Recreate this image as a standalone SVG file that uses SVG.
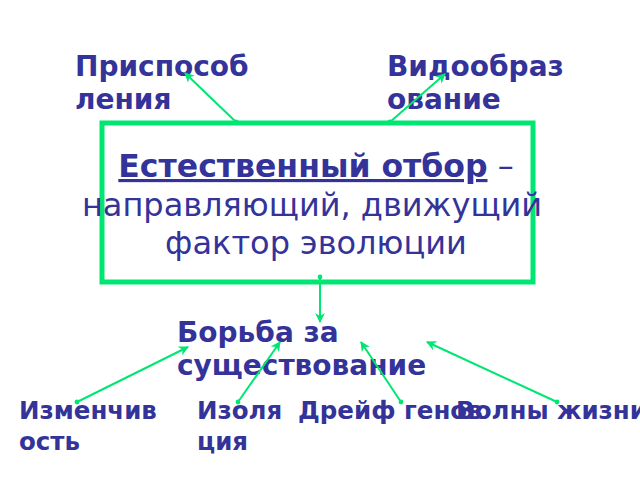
<svg xmlns="http://www.w3.org/2000/svg" width="640" height="480" viewBox="0 0 640 480">
<style>
.l{font-family:"DejaVu Sans",sans-serif;font-weight:bold;font-size:28px;fill:#333399}
.s{font-size:24.5px}
.b{font-family:"DejaVu Sans",sans-serif;font-size:32px;fill:#333399;text-anchor:middle}
.c{stroke:#00e673;stroke-width:2;fill:none;marker-end:url(#ah);marker-start:url(#dot)}
</style>
<defs>
<marker id="ah" viewBox="0 0 10 10" refX="9" refY="5" markerWidth="5" markerHeight="5" orient="auto"><path d="M0,0L10,5L0,10L3,5z" fill="#00e673"/></marker>
<marker id="dot" viewBox="0 0 10 10" refX="5" refY="5" markerWidth="3" markerHeight="3"><circle cx="5" cy="5" r="4" fill="#00e673"/></marker>
</defs>
<rect width="640" height="480" fill="#fff"/>
<g id="main"><rect x="102" y="123" width="431" height="159" fill="none" stroke="#00e673" stroke-width="5"/>
<text class="b" x="316" y="177"><tspan text-decoration="underline" font-weight="bold" font-size="31.5">Естественный отбор</tspan> –</text>
<text class="b" x="312" y="216">направляющий, движущий</text>
<text class="b" x="316" y="254">фактор эволюции</text></g>
<g id="n1"><text class="l" x="75" y="76">Приспособ</text><text class="l" x="75" y="109">ления</text></g>
<g id="n2"><text class="l" x="387" y="76">Видообраз</text><text class="l" x="387" y="109">ование</text></g>
<g id="n3"><text class="l" x="177" y="342" font-size="30">Борьба за</text><text class="l" x="177" y="375" font-size="30">существование</text></g>
<g id="n4"><text class="l s" x="19" y="419">Изменчив</text><text class="l s" x="19" y="450">ость</text></g>
<g id="n5"><text class="l s" x="197" y="419">Изоля</text><text class="l s" x="197" y="450">ция</text></g>
<g id="n6"><text class="l s" x="298" y="419">Дрейф генов</text></g>
<g id="n7"><text class="l s" x="456" y="419">Волны жизни</text></g>
<g id="connectors">
<path class="c" d="M236,122L185,73"/>
<path class="c" d="M390,122L445,74"/>
<path class="c" d="M320,277L320,322"/>
<path class="c" d="M77,402L188,347"/>
<path class="c" d="M238,402L280,342"/>
<path class="c" d="M401,402L361,342"/>
<path class="c" d="M557,402L427,342"/>
</g>
</svg>
